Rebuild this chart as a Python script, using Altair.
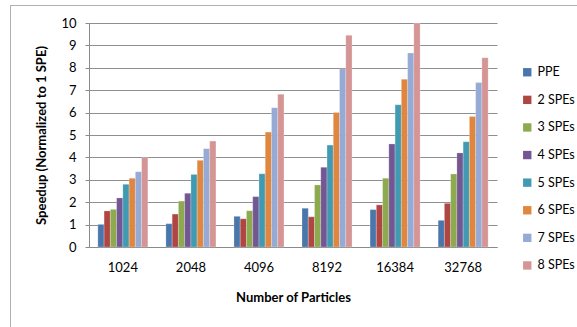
import altair as alt
import pandas as pd

# Particle counts on the x axis
particles = ["1024", "2048", "4096", "8192", "16384", "32768"]

# Processor configurations, in legend order
configs = ["PPE", "2 SPEs", "3 SPEs", "4 SPEs", "5 SPEs", "6 SPEs", "7 SPEs", "8 SPEs"]
colors = ["#4a76ab", "#b04643", "#8daa4f", "#735692", "#409ab2", "#e1863e", "#95abd6", "#d49594"]

# Speedup per configuration, one value per particle count
ppe    = [1.01, 1.04, 1.37, 1.73, 1.67, 1.19]
spe_2  = [1.61, 1.47, 1.26, 1.35, 1.88, 1.95]
spe_3  = [1.68, 2.05, 1.62, 2.77, 3.07, 3.26]
spe_4  = [2.19, 2.40, 2.25, 3.56, 4.60, 4.20]
spe_5  = [2.80, 3.24, 3.27, 4.55, 6.35, 4.70]
spe_6  = [3.07, 3.87, 5.13, 6.01, 7.49, 5.83]
spe_7  = [3.36, 4.39, 6.22, 7.95, 8.66, 7.34]
spe_8  = [3.99, 4.73, 6.82, 9.45, 10.0, 8.45]

series = [ppe, spe_2, spe_3, spe_4, spe_5, spe_6, spe_7, spe_8]
rows = []
for name, vals in zip(configs, series):
    for p, v in zip(particles, vals):
        rows.append({"particles": p, "config": name, "speedup": v})
df = pd.DataFrame(rows)

FONT = "Lato"
W, H = 408, 224
LEFT, TOP = 89, 23

bars = alt.Chart(df).mark_bar(stroke="white", strokeWidth=0.4, strokeOpacity=0.6).encode(
    x=alt.X("particles:N", sort=particles,
            scale=alt.Scale(paddingInner=0.265, paddingOuter=0.13),
            axis=alt.Axis(title="Number of Particles", labelAngle=0, ticks=False,
                          labelPadding=14, titlePadding=17, domainColor="#8a8a8a",
                          labelFontSize=13, titleFontSize=13, titleFontWeight="bold",
                          labelColor="black", titleColor="black")),
    xOffset=alt.XOffset("config:N", sort=configs, scale=alt.Scale(paddingInner=0)),
    y=alt.Y("speedup:Q", scale=alt.Scale(domain=[0, 10], nice=False),
            axis=alt.Axis(title="Speedup (Normalized to 1 SPE)", values=list(range(0, 11)),
                          tickSize=4, labelPadding=9, titlePadding=12,
                          domainColor="#8a8a8a", tickColor="#8a8a8a",
                          gridColor="#8f8f8f", gridWidth=1,
                          labelFontSize=13, titleFontSize=13, titleFontWeight="bold",
                          labelColor="black", titleColor="black")),
    color=alt.Color("config:N", sort=configs,
                    scale=alt.Scale(domain=configs, range=colors),
                    legend=alt.Legend(title=None, orient="none", legendX=432, legendY=43,
                                      symbolType="square", symbolSize=70, symbolStrokeWidth=0,
                                      labelFontSize=12.5, labelColor="black", rowPadding=14.6,
                                      labelOffset=4, labelLimit=60)),
)

# Outer frame around the chart area (top and left edges)
frame_df = pd.DataFrame({"k": [0]})
frame_top = alt.Chart(frame_df).mark_rule(color="#b0b0b0", strokeWidth=1).encode(
    x=alt.value(10 - LEFT), x2=alt.value(577 - LEFT), y=alt.value(5.5 - TOP))
frame_left = alt.Chart(frame_df).mark_rule(color="#b0b0b0", strokeWidth=1).encode(
    x=alt.value(10.5 - LEFT), y=alt.value(5 - TOP), y2=alt.value(327 - TOP))

chart = alt.layer(bars, frame_top, frame_left).properties(
    width=W, height=H,
    autosize=alt.AutoSizeParams(type="none"),
    padding={"left": LEFT, "top": TOP, "right": 577 - LEFT - W, "bottom": 327 - TOP - H},
).configure(font=FONT).configure_view(stroke=None).configure_axisX(grid=False)

chart.save("out.html", embed_options={"renderer": "svg", "actions": False})
